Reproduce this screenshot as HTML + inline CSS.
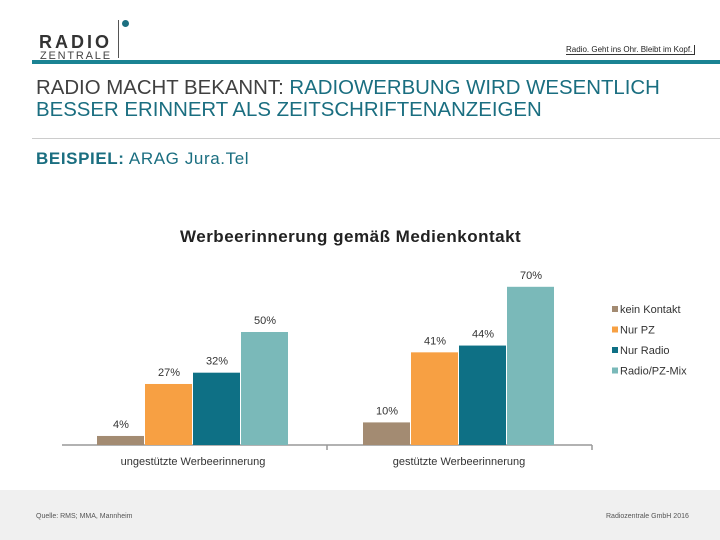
<!DOCTYPE html>
<html><head><meta charset="utf-8"><style>
body{margin:0;width:720px;height:540px;background:#fff;font-family:"Liberation Sans",sans-serif;position:relative;overflow:hidden}
.a{position:absolute}
</style></head><body>
<div class="a" style="left:39px;top:32px;width:90px;height:28px">
<div class="a" style="left:0;top:0;font-weight:bold;font-size:18px;letter-spacing:3px;color:#333">RADIO</div>
<div class="a" style="left:1px;top:18px;font-size:11px;letter-spacing:1.8px;color:#444">ZENTRALE</div>
</div>
<div class="a" style="left:118px;top:20px;width:1px;height:38px;background:#555"></div>
<div class="a" style="left:122px;top:20px;width:7px;height:7px;border-radius:50%;background:#1b6f80"></div>
<div class="a" style="left:566px;top:45px;font-size:8px;color:#222;border-bottom:1px solid #333;border-right:1px solid #333;padding-right:2px">Radio. Geht ins Ohr. Bleibt im Kopf.</div>
<div class="a" style="left:32px;top:60px;width:688px;height:4px;background:#1a8393"></div>
<div class="a" style="left:36px;top:77px;font-size:20.4px;line-height:22px;color:#404040">RADIO MACHT BEKANNT: <span style="color:#1a6e80">RADIOWERBUNG WIRD WESENTLICH<br>BESSER ERINNERT ALS ZEITSCHRIFTENANZEIGEN</span></div>
<div class="a" style="left:32px;top:138px;width:688px;height:1px;background:#ccc"></div>
<div class="a" style="left:36px;top:149px;font-size:17px;letter-spacing:0.6px;color:#1a6e80"><b>BEISPIEL:</b> ARAG Jura.Tel</div>
<div class="a" style="left:180px;top:227px;font-size:17px;letter-spacing:0.5px;font-weight:bold;color:#222">Werbeerinnerung gemäß Medienkontakt</div>
<svg class="a" style="left:0;top:0" width="720" height="540" id="c"></svg>
<div class="a" style="left:0;top:490px;width:720px;height:50px;background:#f0f0f0"></div>
<div class="a" style="left:36px;top:513px;font-size:7px;color:#555">Quelle: RMS; MMA, Mannheim</div>
<div class="a" style="left:606px;top:513px;font-size:7px;color:#555">Radiozentrale GmbH 2016</div>
<script>
const categories=["ungestützte Werbeerinnerung","gestützte Werbeerinnerung"];
const seriesNames=["kein Kontakt","Nur PZ","Nur Radio","Radio/PZ-Mix"];
const kein=[4,10];
const nurPZ=[27,41];
const nurRadio=[32,44];
const mix=[50,70];
const colors=["#a38b72","#f7a043","#0e7085","#7ab9b9"];
const series=[kein,nurPZ,nurRadio,mix];
const svg=document.getElementById('c');const NS="http://www.w3.org/2000/svg";
const base=445,k=2.26,groupX=[97,363],bw=48;
const y=v=>base-v*k;
function mk(t,a){const e=document.createElementNS(NS,t);for(const n in a)e.setAttribute(n,a[n]);svg.appendChild(e);return e;}
const ax=mk('path',{d:'M62 445H592M327 445V450M592 445V450',stroke:'#999','stroke-width':1.5,fill:'none'});


categories.forEach((c,g)=>{
 series.forEach((s,i)=>{
  const x=groupX[g]+i*bw;
  const r=mk('rect',{x:x,y:y(s[g]),width:bw-1,height:s[g]*k,fill:colors[i]});
  
  
  const t=mk('text',{x:x+bw/2,y:y(s[g])-8,'font-size':11,fill:'#333','text-anchor':'middle'});
  t.textContent=s[g]+'%';
  
  
 });
 const l=mk('text',{x:groupX[g]+2*bw,y:465,'font-size':11,fill:'#333','text-anchor':'middle'});
 l.textContent=c;
 
 
});
seriesNames.forEach((n,i)=>{
 const yy=310+i*20.5;
 const r=mk('rect',{x:612,y:yy-4,width:6,height:6,fill:colors[i]});
 
 
 const t=mk('text',{x:620,y:yy+3,'font-size':11,fill:'#333'});
 t.textContent=n;
 
 
});
</script>
</body></html>
